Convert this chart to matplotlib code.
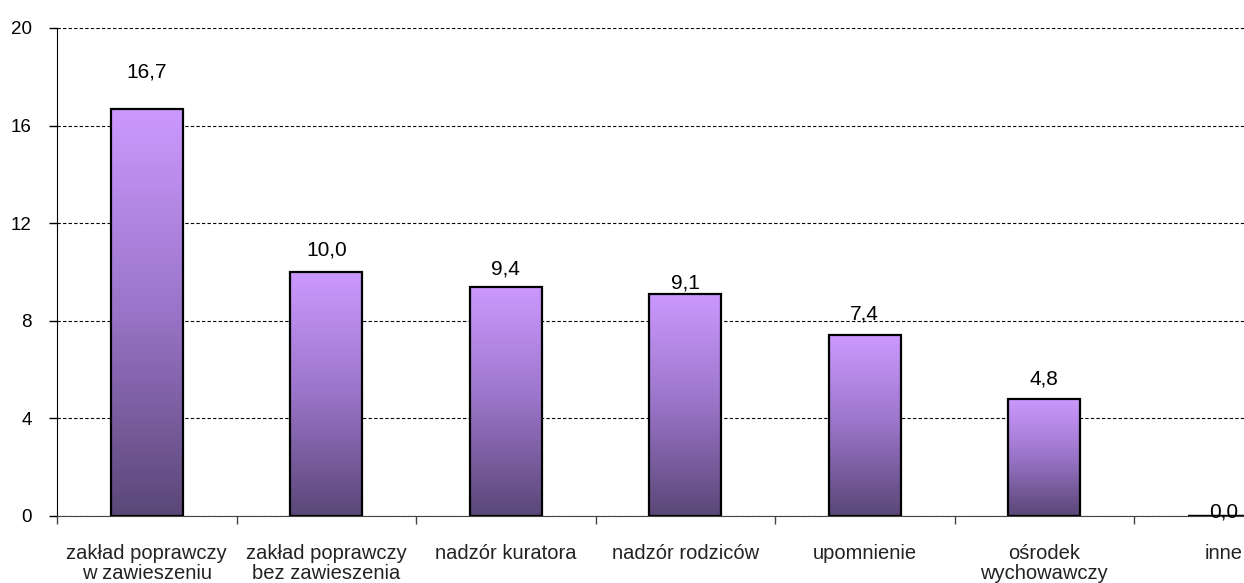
import matplotlib.pyplot as plt
import numpy as np
from matplotlib.colors import LinearSegmentedColormap

categories = [
    "zakład poprawczy\nw zawieszeniu",
    "zakład poprawczy\nbez zawieszenia",
    "nadzór kuratora",
    "nadzór rodziców",
    "upomnienie",
    "ośrodek\nwychowawczy",
    "inne",
]
values = [16.7, 10.0, 9.4, 9.1, 7.4, 4.8, 0.0]
value_labels = ["16,7", "10,0", "9,4", "9,1", "7,4", "4,8", "0,0"]
yticks = [0, 4, 8, 12, 16, 20]

# label offsets above bar top, in pixels (Excel placed them unevenly)
label_offsets = [37, 22, 18, 11, 21, 20, 4]

plt.rcParams['font.family'] = ['Liberation Sans', 'DejaVu Sans']

fig = plt.figure(figsize=(12.44, 5.83), dpi=100)
# the original chart is cropped on the right, so the axes run past the figure edge
ax = fig.add_axes([57 / 1244, 67 / 583, 1256.5 / 1244, 488 / 583])

x = np.arange(len(categories))
bars = ax.bar(x, values, width=0.40, color='none', edgecolor='black',
              linewidth=1.6, zorder=3)

grad = np.linspace(0, 1, 256).reshape(-1, 1)
cmap = LinearSegmentedColormap.from_list('purp', ['#5a4777', '#9a74c8', '#cc99ff'])
for b in bars:
    if b.get_height() <= 0:
        continue
    x0, w, h = b.get_x(), b.get_width(), b.get_height()
    im = ax.imshow(grad, extent=[x0, x0 + w, 0, h], origin='lower',
                   cmap=cmap, aspect='auto', zorder=2)
    im.set_clip_path(b)

for xi, v, lab, off in zip(x, values, value_labels, label_offsets):
    ax.annotate(lab, (xi, v), xytext=(0, off), textcoords='offset pixels',
                ha='center', va='center', fontsize=15, zorder=6)

ax.set_xlim(-0.5, len(categories) - 0.5)
ax.set_ylim(0, 20)
ax.set_yticks(yticks)
ax.set_yticklabels([str(t) for t in yticks], fontsize=13.5)
ax.yaxis.grid(True, linestyle=(0, (3, 2)), color='black', linewidth=0.8)
ax.set_axisbelow(True)

ax.set_xticks(x)
ax.set_xticklabels(categories, fontsize=14.5, color='#222222', linespacing=1.1)
ax.set_xticks(np.arange(len(categories)) - 0.5, minor=True)
ax.tick_params(axis='x', which='major', length=0, pad=20)
ax.tick_params(axis='x', which='minor', length=6, width=1, color='#444444')
ax.tick_params(axis='y', length=6, width=1, pad=12)

for s in ['top', 'right']:
    ax.spines[s].set_visible(False)
ax.spines['left'].set_color('black')
ax.spines['bottom'].set_color('#444444')
ax.spines['bottom'].set_zorder(5)

fig.savefig('out.png', dpi=100)
